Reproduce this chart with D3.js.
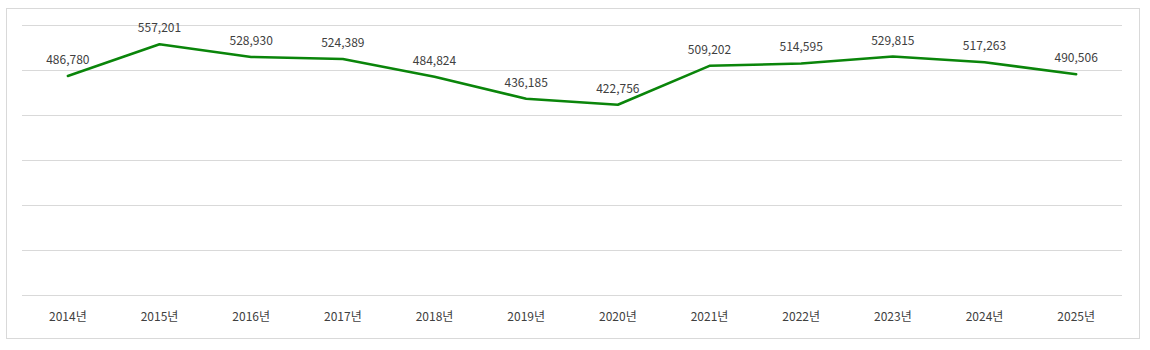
<!DOCTYPE html>
<html><head><meta charset="utf-8">
<script src="https://cdn.jsdelivr.net/npm/d3@7"></script>
<style>
html,body{margin:0;padding:0;background:#fff;}
svg{display:block;}
</style></head>
<body>
<svg id="chart" width="1150" height="350"></svg>
<script>
const categories = ["2014년","2015년","2016년","2017년","2018년","2019년","2020년","2021년","2022년","2023년","2024년","2025년"];
const values = [486780,557201,528930,524389,484824,436185,422756,509202,514595,529815,517263,490506];
const yTicks = [0,100000,200000,300000,400000,500000,600000];

const svg = d3.select("#chart");
const font = "'Noto Sans CJK KR','Noto Sans',sans-serif";

svg.append("rect").attr("x",6.5).attr("y",8.5).attr("width",1133).attr("height",330)
  .attr("fill","#fff").attr("stroke","#d9d9d9").attr("stroke-width",1);

const x = d3.scaleBand().domain(categories).range([22,1122]);
const y = d3.scaleLinear().domain([0,600000]).range([295,25]);

svg.append("g").selectAll("line").data(yTicks).join("line")
  .attr("x1",22).attr("x2",1122)
  .attr("y1",d=>Math.round(y(d))+0.5).attr("y2",d=>Math.round(y(d))+0.5)
  .attr("stroke","#d9d9d9").attr("stroke-width",1);

const xAxis = svg.append("g").attr("transform","translate(0,295)")
  .call(d3.axisBottom(x).tickSize(0).tickPadding(17));
xAxis.select(".domain").remove();
xAxis.selectAll("text").attr("fill","#404040").style("font-family",font).style("font-size","12px");

const line = d3.line().x((d,i)=>x(categories[i])+x.bandwidth()/2).y(d=>y(d));
svg.append("path").datum(values).attr("d",line).attr("fill","none")
  .attr("stroke","#0a850a").attr("stroke-width",2.5).attr("stroke-linejoin","round").attr("stroke-linecap","round");

svg.append("g").selectAll("text").data(values).join("text")
  .attr("x",(d,i)=>x(categories[i])+x.bandwidth()/2)
  .attr("y",d=>y(d)-12)
  .attr("text-anchor","middle")
  .attr("fill","#404040")
  .style("font-family",font).style("font-size","12px")
  .text(d=>d3.format(",")(d));
</script>
</body></html>
